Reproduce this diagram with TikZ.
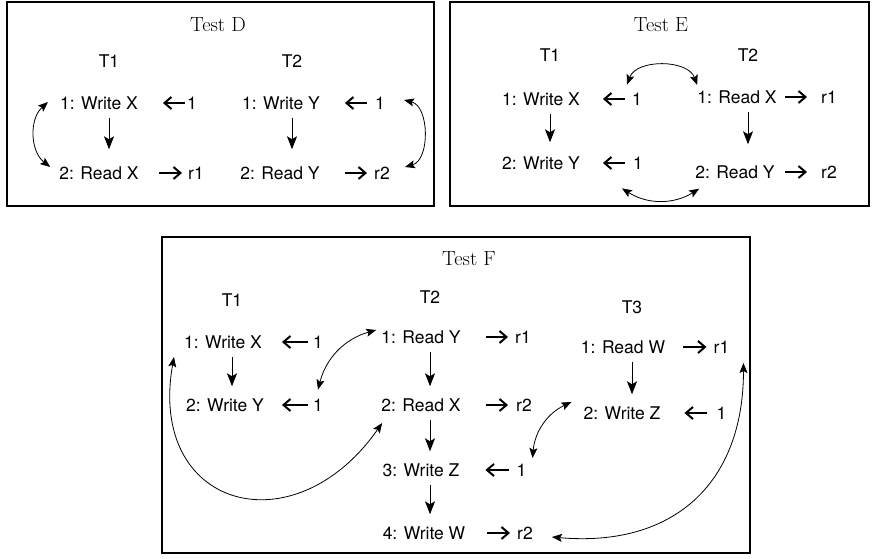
\documentclass[tikz,border=0pt]{standalone}
\usepackage{fontspec}
\newfontfamily\helv{TeX Gyre Heros}
\usetikzlibrary{arrows.meta,positioning}

\tikzset{frame/.style={draw=black,line width=1.6pt},
op/.style={font=\helv\fontsize{17.5}{20}\selectfont,inner sep=2pt},
title/.style={font=\fontsize{20.5}{24}\selectfont,inner sep=2pt},
seq/.style={line width=1pt,-{Stealth[length=13pt,width=10pt,inset=3pt]},shorten <=6pt,shorten >=10pt},
val/.style={line width=2pt,-{Straight Barb[length=7pt,width=12pt]}},
link/.style={line width=.8pt,{Stealth[length=10pt,width=8pt,inset=2pt]}-{Stealth[length=10pt,width=8pt,inset=2pt]}}}

\begin{document}
\begin{tikzpicture}[x=1pt,y=1pt]
\useasboundingbox (0,0) rectangle (872,-559);

% Test D
\draw[frame] (7,-2) rectangle (434,-206);
\node[title] (dtitle) at (218,-25) {Test D};
\node[op] (dt1) at (109,-61) {T1};
\node[op] (dt2) at (292,-61) {T2};
\node[op] (dw1) at (99,-103) {1: Write X};
\node[op] (dr1) at (99,-173) {2: Read X};
\node[op] (dw2) at (281,-103) {1: Write Y};
\node[op] (dr2) at (280,-173) {2: Read Y};
\node[op] (dv1) at (192,-103) {1};
\node[op] (dv2) at (380,-103) {1};
\node[op] (dq1) at (196,-173) {r1};
\node[op] (dq2) at (382,-173) {r2};
\coordinate[left=22pt of dv1] (dv1e);
\coordinate[left=28pt of dv2] (dv2e);
\coordinate[left=27pt of dq1] (dq1s);
\coordinate[left=27pt of dq2] (dq2s);
\draw[val] (dv1) -- (dv1e); \draw[val,shorten <=6pt] (dv2) -- (dv2e);
\draw[val,shorten >=4pt] (dq1s) -- (dq1); \draw[val,shorten >=5pt] (dq2s) -- (dq2);
\draw[seq,shorten >=15pt] (dw1.south -| dt1) -- (dr1.north -| dt1);
\draw[seq,shorten >=15pt] (dw2.south -| dt2) -- (dr2.north -| dt2);
\draw[link] ([xshift=-10pt,yshift=1pt]dw1.west) to[bend right=50] ([xshift=-7pt,yshift=6pt]dr1.west);
\draw[link] ([xshift=17pt,yshift=3pt]dv2.east) to[bend left=75] ([xshift=13pt,yshift=6pt]dq2.east);

% Test E
\draw[frame] (450,-2) rectangle (869,-206);
\node[title] (etitle) at (661,-25) {Test E};
\node[op] (et1) at (550,-55) {T1};
\node[op] (et2) at (748,-55) {T2};
\node[op] (ew1) at (541,-99) {1: Write X};
\node[op] (ew2) at (541,-163) {2: Write Y};
\node[op] (er1) at (737,-97) {1: Read X};
\node[op] (er2) at (735,-172) {2: Read Y};
\node[op] (ev1) at (637,-99) {1};
\node[op] (ev2) at (638,-163) {1};
\node[op] (eq1) at (829,-97) {r1};
\node[op] (eq2) at (829,-172) {r2};
\coordinate[left=27pt of ev1] (ev1e);
\coordinate[left=28pt of ev2] (ev2e);
\coordinate[left=34pt of eq1] (eq1s);
\coordinate[left=34pt of eq2] (eq2s);
\draw[val,shorten <=5pt] (ev1) -- (ev1e); \draw[val,shorten <=6pt] (ev2) -- (ev2e);
\draw[val,shorten >=12pt] (eq1s) -- (eq1); \draw[val,shorten >=12pt] (eq2s) -- (eq2);
\draw[seq,shorten >=12pt] (ew1.south -| et1) -- (ew2.north -| et1);
\draw[seq,shorten >=19pt] (er1.south -| et2) -- (er2.north -| et2);
\draw[link] ([xshift=-10pt,yshift=6pt]ev1.north) to[bend left=70] ([xshift=2pt,yshift=12pt]er1.west);
\draw[link] ([xshift=-16pt,yshift=-17pt]ev2.south) to[bend right=32] ([xshift=6pt,yshift=-8pt]er2.south west);

% Test F
\draw[frame] (162,-237) rectangle (750,-553);
\node[title] (ftitle) at (469,-259) {Test F};
\node[op] (ft1) at (232,-300) {T1};
\node[op] (ft2) at (430,-297) {T2};
\node[op] (ft3) at (632,-307) {T3};
% T1
\node[op] (fw1) at (223,-342) {1: Write X};
\node[op] (fw2) at (225,-405) {2: Write Y};
\node[op] (fa1) at (318,-342) {1};
\node[op] (fa2) at (318,-405) {1};
% T2
\node[op] (fr1) at (421,-337) {1: Read Y};
\node[op] (fr2) at (421,-405) {2: Read X};
\node[op] (fw3) at (421,-470) {3: Write Z};
\node[op] (fw4) at (424,-533) {4: Write W};
\node[op] (fq1) at (523,-337) {r1};
\node[op] (fq2) at (524,-405) {r2};
\node[op] (fa3) at (521.5,-470) {1};
\node[op] (fq4) at (525,-533) {r2};
% T3
\node[op] (fr3) at (623,-347) {1: Read W};
\node[op] (fw5) at (622,-413) {2: Write Z};
\node[op] (fq3) at (721.5,-347) {r1};
\node[op] (fa5) at (721.5,-413) {1};

\coordinate[left=29pt of fa1] (fa1e);
\coordinate[left=29pt of fa2] (fa2e);
\coordinate[left=29pt of fa3] (fa3e);
\coordinate[left=30pt of fa5] (fa5e);
\draw[val,shorten <=3pt] (fa1) -- (fa1e); \draw[val,shorten <=3pt] (fa2) -- (fa2e);
\draw[val,shorten <=5pt] (fa3) -- (fa3e); \draw[val,shorten <=7pt] (fa5) -- (fa5e);
\coordinate[left=27pt of fq1] (fq1s);
\coordinate[left=28pt of fq2] (fq2s);
\coordinate[left=29pt of fq3] (fq3s);
\coordinate[left=28pt of fq4] (fq4s);
\draw[val,shorten >=5pt] (fq1s) -- (fq1); \draw[val,shorten >=6pt] (fq2s) -- (fq2);
\draw[val,shorten >=5pt] (fq3s) -- (fq3); \draw[val,shorten >=5pt] (fq4s) -- (fq4);

\draw[seq] (fw1.south -| ft1) -- (fw2.north -| ft1);
\draw[seq] (fr1.south -| ft2) -- (fr2.north -| ft2);
\draw[seq] (fr2.south -| ft2) -- (fw3.north -| ft2);
\draw[seq] (fw3.south -| ft2) -- (fw4.north -| ft2);
\draw[seq] (fr3.south -| ft3) -- (fw5.north -| ft3);

\draw[link] ([xshift=-3pt,yshift=7pt]fr1.west) to[bend right=30] ([yshift=7pt]fa2.north);
\draw[link] ([xshift=-8pt,yshift=-15pt]fw1.west) to[out=-100,in=-125,looseness=1.8] ([xshift=3pt,yshift=-18pt]fr2.west);
\draw[link] ([xshift=-10pt,yshift=11pt]fw5.west) to[bend right=30] ([xshift=4pt,yshift=12pt]fa3.east);
\draw[link] ([xshift=12pt,yshift=-16pt]fq3.east) to[out=-90,in=-5,looseness=1.2] ([xshift=17pt,yshift=-4pt]fq4.east);

\end{tikzpicture}
\end{document}
